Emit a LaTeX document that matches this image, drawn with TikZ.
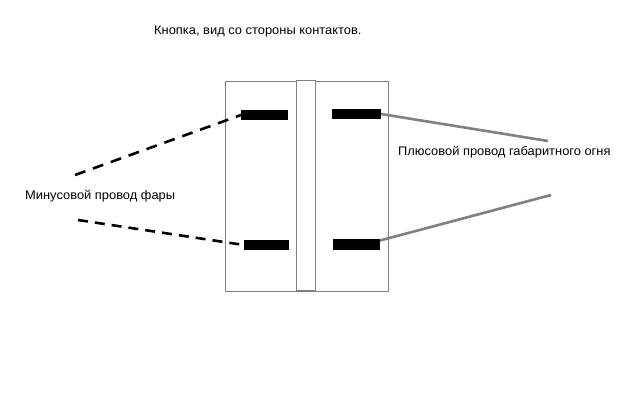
\documentclass[tikz,border=0pt]{standalone}
\usepackage{fontspec}
\setmainfont[FakeStretch=1.035]{Liberation Sans}
\tikzset{
  boxline/.style={draw=black!50,line width=1pt,inner sep=0pt,outer sep=0pt,fill=white},
  contact/.style={fill=black,inner sep=0pt,outer sep=0pt,anchor=north west},
  label/.style={inner sep=0pt,anchor=base west,text=black,font=\fontsize{12.45}{14}\selectfont},
  minuswire/.style={line width=2.6pt,black},
  pluswire/.style={line width=2.6pt,black!50}
}
\begin{document}
\begin{tikzpicture}[x=1pt,y=-1pt]
\useasboundingbox (0,0) rectangle (640,400);
\fill[white] (0,0) rectangle (640,400);
\node[boxline,anchor=north west,minimum width=162.5pt,minimum height=209.5pt] (body) at (225.5,81.5) {};
\node[boxline,anchor=north west,minimum width=19pt,minimum height=210pt] (rocker) at (296.5,80.5) {};
\node[contact,minimum width=47pt,minimum height=10pt] (tl) at (241,110) {};
\node[contact,minimum width=49pt,minimum height=10pt] (tr) at (332,109) {};
\node[contact,minimum width=45pt,minimum height=10pt] (bl) at (244,240) {};
\node[contact,minimum width=47pt,minimum height=11pt] (br) at (333,239) {};
\coordinate (mt) at (75,175);
\coordinate (mb) at (78,220);
\coordinate (pt) at (548,141);
\coordinate (pb) at (551,195);
\draw[minuswire,dash pattern=on 11pt off 8pt] (mt) -- (tl.west);
\draw[minuswire,dash pattern=on 10pt off 7pt] (mb) -- (bl.west);
\draw[pluswire] (tr.east) -- (pt);
\draw[pluswire] ([yshift=4pt]br.east) -- (pb);
\node[label] (title) at (154,34) {Кнопка, вид со стороны контактов.};
\node[label] (minus) at (25,199) {Минусовой провод фары};
\node[label] (plus) at (398,155) {Плюсовой провод габаритного огня};
\end{tikzpicture}
\end{document}
